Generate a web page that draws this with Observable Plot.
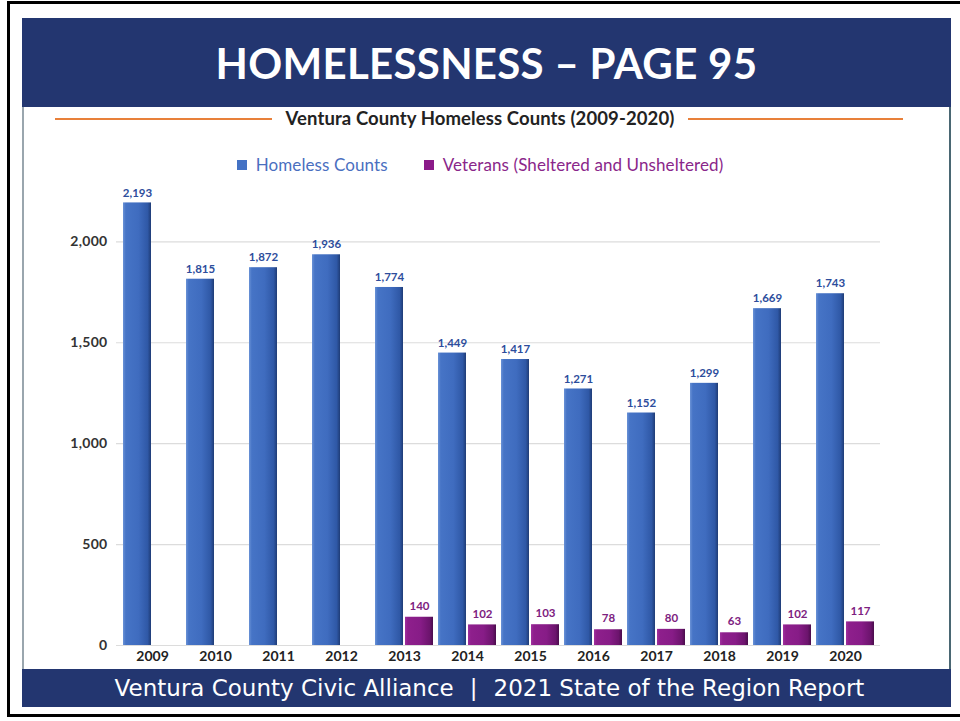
<!DOCTYPE html>
<html>
<head>
<meta charset="utf-8">
<script src="https://cdn.jsdelivr.net/npm/d3@7"></script>
<script src="https://cdn.jsdelivr.net/npm/@observablehq/plot@0.6"></script>
<style>
  html, body { margin: 0; padding: 0; background: #fff; }
  body { width: 960px; height: 721px; position: relative; overflow: hidden; font-family: Lato, "Open Sans", sans-serif; }
  .abs { position: absolute; }
  #frame { left: 7px; top: 1px; width: 960px; height: 716px; border-left: 3px solid #000; border-top: 3px solid #000; border-bottom: 3px solid #000; box-sizing: border-box; }
  #header { left: 22px; top: 18px; width: 929px; height: 89px; background: #233670; color: #fff; display: flex; align-items: center; justify-content: center; font-family: Lato, sans-serif; font-weight: 700; font-size: 42px; letter-spacing: 0.3px; }
  #footer { left: 22px; top: 669px; width: 929px; height: 38px; background: #233670; color: #fff; font-family: "DejaVu Sans", Verdana, sans-serif; font-size: 23px; display: flex; align-items: center; justify-content: center; padding-left: 6px; box-sizing: border-box; white-space: nowrap; }
  #footer .sep { margin: 0 16px; }
  #leftline { left: 22px; top: 107px; width: 2px; height: 562px; background: #9aa6ae; }
  #rightline { left: 949px; top: 107px; width: 2px; height: 562px; background: #4a6773; }
  #subtitle { left: 0; top: 107px; width: 960px; text-align: center; font-size: 18.5px; font-weight: 700; color: #222; letter-spacing: 0.1px; }
  .orange { height: 2px; background: #e8803a; top: 118px; }
  #legend { left: 0; top: 154px; width: 960px; display: flex; justify-content: center; font-size: 17px; letter-spacing: 0.1px; padding-left: 0px; box-sizing: border-box; }
  .li { display: flex; align-items: center; margin: 0 18px; }
  .sw { width: 10px; height: 10px; margin-right: 9px; }
  #plot { left: 0; top: 180px; }
</style>
</head>
<body>
<div id="frame" class="abs"></div>
<div id="header" class="abs">HOMELESSNESS – PAGE 95</div>
<div id="leftline" class="abs"></div>
<div id="rightline" class="abs"></div>
<div class="abs orange" style="left:55px;width:217px;"></div>
<div class="abs orange" style="left:688px;width:215px;"></div>
<div id="subtitle" class="abs">Ventura County Homeless Counts (2009-2020)</div>
<div id="legend" class="abs"></div>
<div id="plot" class="abs"></div>
<div id="footer" class="abs"><span>Ventura County Civic Alliance</span><span class="sep">|</span><span>2021 State of the Region Report</span></div>

<svg width="0" height="0" style="position:absolute">
  <defs>
    <linearGradient id="gBlue" x1="0" x2="1" y1="0" y2="0">
      <stop offset="0%" stop-color="#6a92d6"/>
      <stop offset="10%" stop-color="#4674c6"/>
      <stop offset="55%" stop-color="#3f6cbf"/>
      <stop offset="88%" stop-color="#2f58a6"/>
      <stop offset="100%" stop-color="#1f3c76"/>
    </linearGradient>
    <linearGradient id="gPurple" x1="0" x2="1" y1="0" y2="0">
      <stop offset="0%" stop-color="#a0309e"/>
      <stop offset="10%" stop-color="#8e1f8c"/>
      <stop offset="55%" stop-color="#871c87"/>
      <stop offset="88%" stop-color="#6c146d"/>
      <stop offset="100%" stop-color="#4a0c4c"/>
    </linearGradient>
  </defs>
</svg>

<script>
const years = ["2009","2010","2011","2012","2013","2014","2015","2016","2017","2018","2019","2020"];
const homeless = [2193, 1815, 1872, 1936, 1774, 1449, 1417, 1271, 1152, 1299, 1669, 1743];
const veterans = [null, null, null, null, 140, 102, 103, 78, 80, 63, 102, 117];
const yTicks = [0, 500, 1000, 1500, 2000];
const seriesNames = ["Homeless Counts", "Veterans (Sheltered and Unsheltered)"];
const seriesColors = ["#4472c4", "#8b1a89"];
const legendTextColors = ["#4a6fbf", "#8a268a"];

const hData = years.map((y, i) => ({year: y, value: homeless[i]}));
const vData = years.map((y, i) => ({year: y, value: veterans[i]})).filter(d => d.value != null);
const fmt = d3.format(",");

// legend
const legend = document.getElementById("legend");
seriesNames.forEach((n, i) => {
  const li = document.createElement("div");
  li.className = "li";
  li.innerHTML = `<span class="sw" style="background:${seriesColors[i]}"></span><span style="color:${legendTextColors[i]}">${n}</span>`;
  legend.appendChild(li);
});

const chart = Plot.plot({
  width: 960,
  height: 490,
  marginLeft: 116,
  marginRight: 80,
  marginTop: 21,
  marginBottom: 25,
  style: {fontFamily: "Lato, sans-serif", background: "transparent", overflow: "visible"},
  x: {domain: years, padding: 0.0833, label: null, tickSize: 0, tickPadding: 6},
  y: {domain: [0, 2200], ticks: yTicks, label: null, tickSize: 0, tickPadding: 9, tickFormat: fmt},
  marks: [
    Plot.ruleY(yTicks, {stroke: "#dcdcdc", strokeWidth: 1.2}),
    Plot.barY(hData, {x: "year", y: "value", fill: "url(#gBlue)", insetRight: 30}),
    Plot.barY(vData, {x: "year", y: "value", fill: "url(#gPurple)", insetLeft: 30}),
    Plot.text(hData, {x: "year", y: "value", text: d => fmt(d.value), dx: -15, dy: -10, fontSize: 11.5, fontWeight: 700, fill: "#2d4d9c"}),
    Plot.text(vData, {x: "year", y: "value", text: d => fmt(d.value), dx: 15, dy: -11, fontSize: 11.5, fontWeight: 700, fill: "#7d2180"})
  ]
});
document.getElementById("plot").appendChild(chart);
// style axis text
chart.querySelectorAll('[aria-label="x-axis tick label"]').forEach(el => {
  el.setAttribute("font-size", "14"); el.setAttribute("font-weight", "700"); el.setAttribute("fill", "#222");
});
chart.querySelectorAll('[aria-label="y-axis tick label"]').forEach(el => {
  el.setAttribute("font-size", "14"); el.setAttribute("font-weight", "700"); el.setAttribute("fill", "#333");
  el.setAttribute("letter-spacing", "0.3");
});
</script>
</body>
</html>
